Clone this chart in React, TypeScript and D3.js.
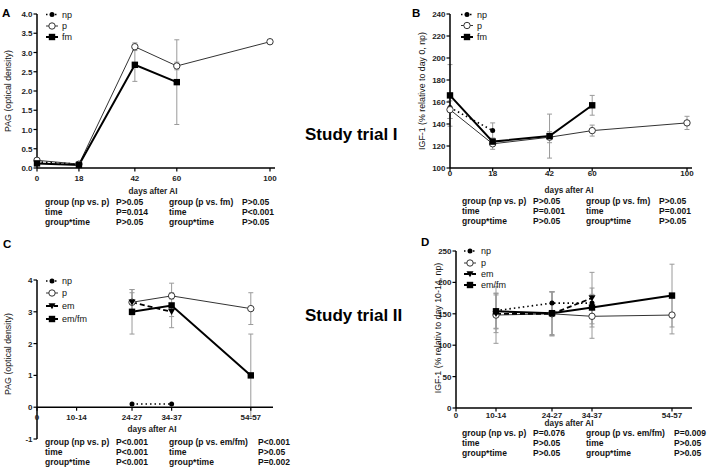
import React from "react";
import * as d3 from "d3";

// ---------- Data ----------
// Study trial I (panels A, B)
const daysI = [0, 18, 42, 60, 100];
const pagA_np = [0.16, 0.1, null, null, null];
const pagA_np_err = [0.06, 0.03, null, null, null];
const pagA_p = [0.2, 0.1, 3.15, 2.65, 3.28];
const pagA_p_err = [0.05, 0.03, 0.1, 0.1, 0.03];
const pagA_fm = [0.12, 0.08, 2.68, 2.23, null];
const pagA_fm_err = [0.05, 0.03, 0.43, 1.1, null];

const igfB_np = [155, 134, null, null, null];
const igfB_np_err = [10, 7, null, null, null];
const igfB_p = [153, 122, 128, 134, 141];
const igfB_p_err = [8, 5, 5, 5, 6];
const igfB_fm = [166, 124, 129, 157, null];
const igfB_fm_err = [28, 3, 20, 9, null];

// Study trial II (panels C, D)
const periodLabels = ["10-14", "24-27", "34-37", "54-57"];
const periodStart = [10, 24, 34, 54];
const pagC_np = [null, 0.1, 0.1, null];
const pagC_np_err = [null, 0, 0, null];
const pagC_p = [null, 3.3, 3.5, 3.1];
const pagC_p_err = [null, 0.4, 0.1, 0.5];
const pagC_em = [null, 3.3, 3.0, null];
const pagC_em_err = [null, 0.3, 0.15, null];
const pagC_emfm = [null, 3.0, 3.2, 1.0];
const pagC_emfm_err = [null, 0.7, 0.7, 1.3];

const igfD_np = [155, 167, 167, null];
const igfD_np_err = [28, 18, 10, null];
const igfD_p = [148, 150, 146, 148];
const igfD_p_err = [45, 35, 35, 30];
const igfD_em = [150, 150, 175, null];
const igfD_em_err = [30, 35, 41, null];
const igfD_emfm = [154, 151, 160, 179];
const igfD_emfm_err = [28, 34, 31, 50];

const statsA = [
  ["group (np vs. p)", "P>0.05", "group (p vs. fm)", "P>0.05"],
  ["time", "P=0.014", "time", "P<0.001"],
  ["group*time", "P>0.05", "group*time", "P>0.05"],
];
const statsB = [
  ["group (np vs. p)", "P>0.05", "group (p vs. fm)", "P>0.05"],
  ["time", "P=0.001", "time", "P=0.001"],
  ["group*time", "P>0.05", "group*time", "P>0.05"],
];
const statsC = [
  ["group (np vs. p)", "P<0.001", "group (p vs. em/fm)", "P<0.001"],
  ["time", "P<0.001", "time", "P>0.05"],
  ["group*time", "P<0.001", "group*time", "P=0.002"],
];
const statsD = [
  ["group (np vs. p)", "P=0.076", "group (p vs. em/fm)", "P=0.009"],
  ["time", "P>0.05", "time", "P>0.05"],
  ["group*time", "P>0.05", "group*time", "P>0.05"],
];

// ---------- Styles ----------
const FONT = "'Liberation Sans', Arial, sans-serif";
type Kind = "np" | "p" | "fm" | "em";
const lineStyle: Record<Kind, any> = {
  np: { stroke: "#000", strokeWidth: 1.6, strokeDasharray: "1.5,3" },
  p: { stroke: "#333", strokeWidth: 1 },
  fm: { stroke: "#000", strokeWidth: 2 },
  em: { stroke: "#000", strokeWidth: 1.8, strokeDasharray: "5,3" },
};

function Marker({ kind, x, y }: { kind: Kind; x: number; y: number }) {
  if (kind === "np") return <circle cx={x} cy={y} r={2.5} fill="#000" />;
  if (kind === "p")
    return <circle cx={x} cy={y} r={3.2} fill="#fff" stroke="#333" strokeWidth={1} />;
  if (kind === "fm") return <rect x={x - 3.2} y={y - 3.2} width={6.4} height={6.4} fill="#000" />;
  const s = 3.5;
  return <path d={`M${x - s},${y - s * 0.8}L${x + s},${y - s * 0.8}L${x},${y + s * 0.9}Z`} fill="#000" />;
}

type Series = { name: string; kind: Kind; values: (number | null)[]; errors: (number | null)[] };

type PanelProps = {
  letter: string;
  letterPos: [number, number];
  xs: number[];
  x: d3.ScaleLinear<number, number>;
  y: d3.ScaleLinear<number, number>;
  xAxisAt: number;
  xAxisEnd: number;
  xTicks: { v: number; label: string }[];
  xTickBaseline: number;
  yTicks: number[];
  yFormat: (v: number) => string;
  series: Series[];
  legend: { cx: number; tx: number; ys: number[] };
  yLabel: string;
  yLabelPos: [number, number];
  xLabelPos: [number, number];
  stats: string[][];
  statsX: number[];
  statsY: number[];
};

function Panel(p: PanelProps) {
  const [yMin, yMax] = p.y.domain();
  const axisY = p.y(p.xAxisAt);
  const x0 = p.x(0);
  return (
    <g fontFamily={FONT}>
      <text x={p.letterPos[0]} y={p.letterPos[1]} fontSize={11.5} fontWeight="bold">
        {p.letter}
      </text>
      {/* error bars */}
      {p.series.map((s) =>
        s.values.map((v, i) => {
          const e = s.errors[i];
          if (v == null || e == null || e === 0) return null;
          const cx = p.x(p.xs[i]);
          const y1 = p.y(v - e);
          const y2 = p.y(v + e);
          return (
            <g key={s.name + i} stroke="#9a9a9a" strokeWidth={1}>
              <line x1={cx} x2={cx} y1={y1} y2={y2} />
              <line x1={cx - 2.5} x2={cx + 2.5} y1={y1} y2={y1} />
              <line x1={cx - 2.5} x2={cx + 2.5} y1={y2} y2={y2} />
            </g>
          );
        })
      )}
      {/* axes */}
      <line x1={x0} x2={x0} y1={p.y(yMax)} y2={p.y(yMin)} stroke="#000" strokeWidth={1.5} />
      <line x1={x0} x2={p.xAxisEnd} y1={axisY} y2={axisY} stroke="#000" strokeWidth={1.5} />
      {p.yTicks.map((t) => (
        <g key={"yt" + t}>
          <line x1={x0 - 3.5} x2={x0} y1={p.y(t)} y2={p.y(t)} stroke="#000" strokeWidth={1.2} />
          <text x={x0 - 4.5} y={p.y(t) + 3} fontSize={8} fontWeight="bold" textAnchor="end" fill="#222">
            {p.yFormat(t)}
          </text>
        </g>
      ))}
      {p.xTicks.map((t) => (
        <g key={"xt" + t.label}>
          <line x1={p.x(t.v)} x2={p.x(t.v)} y1={axisY} y2={axisY + 3.5} stroke="#000" strokeWidth={1.2} />
          <text x={p.x(t.v)} y={p.xTickBaseline} fontSize={8} fontWeight="bold" textAnchor="middle" fill="#222">
            {t.label}
          </text>
        </g>
      ))}
      {/* lines */}
      {p.series.map((s) => {
        const pts = s.values.map((v, i) => ({ xv: p.xs[i], v }));
        const gen = d3
          .line<{ xv: number; v: number | null }>()
          .defined((d) => d.v != null)
          .x((d) => p.x(d.xv))
          .y((d) => p.y(d.v as number));
        return <path key={"l" + s.name} d={gen(pts) || ""} fill="none" {...lineStyle[s.kind]} />;
      })}
      {/* markers */}
      {p.series.map((s) =>
        s.values.map((v, i) =>
          v == null ? null : <Marker key={"m" + s.name + i} kind={s.kind} x={p.x(p.xs[i])} y={p.y(v)} />
        )
      )}
      {/* legend */}
      {p.series.map((s, i) => (
        <g key={"lg" + s.name}>
          <line
            x1={p.legend.cx - 6}
            x2={p.legend.cx + 6}
            y1={p.legend.ys[i]}
            y2={p.legend.ys[i]}
            {...lineStyle[s.kind]}
          />
          <Marker kind={s.kind} x={p.legend.cx} y={p.legend.ys[i]} />
          <text x={p.legend.tx} y={p.legend.ys[i] + 3.2} fontSize={9} fill="#111">
            {s.name}
          </text>
        </g>
      ))}
      {/* labels */}
      <text
        transform={`translate(${p.yLabelPos[0]},${p.yLabelPos[1]}) rotate(-90)`}
        fontSize={8.8}
        textAnchor="middle"
        dy="0.35em"
        fill="#111"
      >
        {p.yLabel}
      </text>
      <text x={p.xLabelPos[0]} y={p.xLabelPos[1]} fontSize={8.2} fontWeight="bold" textAnchor="middle" fill="#222">
        days after AI
      </text>
      {p.stats.map((row, r) =>
        row.map((cell, c) => (
          <text
            key={"s" + r + c}
            x={p.statsX[c]}
            y={p.statsY[r]}
            fontSize={8.5}
            fontWeight="bold"
            fill="#111"
          >
            {cell}
          </text>
        ))
      )}
    </g>
  );
}

export default function App() {
  const xA = d3.scaleLinear().domain([0, 100]).range([37, 270]);
  const yA = d3.scaleLinear().domain([0, 4]).range([168, 14]);
  const xB = d3.scaleLinear().domain([0, 100]).range([450, 687]);
  const yB = d3.scaleLinear().domain([100, 240]).range([168, 14]);
  const xC = d3.scaleLinear().domain([0, 59]).range([37, 270.6]);
  const yC = d3.scaleLinear().domain([-1, 4]).range([439, 280]);
  const xD = d3.scaleLinear().domain([0, 59]).range([456, 692]);
  const yD = d3.scaleLinear().domain([0, 250]).range([408, 251]);

  const ticksI = daysI.map((d) => ({ v: d, label: String(d) }));
  const ticksII = [{ v: 0, label: "0" }].concat(periodStart.map((d, i) => ({ v: d, label: periodLabels[i] })));

  const seriesA: Series[] = [
    { name: "np", kind: "np", values: pagA_np, errors: pagA_np_err },
    { name: "p", kind: "p", values: pagA_p, errors: pagA_p_err },
    { name: "fm", kind: "fm", values: pagA_fm, errors: pagA_fm_err },
  ];
  const seriesB: Series[] = [
    { name: "np", kind: "np", values: igfB_np, errors: igfB_np_err },
    { name: "p", kind: "p", values: igfB_p, errors: igfB_p_err },
    { name: "fm", kind: "fm", values: igfB_fm, errors: igfB_fm_err },
  ];
  const seriesC: Series[] = [
    { name: "np", kind: "np", values: pagC_np, errors: pagC_np_err },
    { name: "p", kind: "p", values: pagC_p, errors: pagC_p_err },
    { name: "em", kind: "em", values: pagC_em, errors: pagC_em_err },
    { name: "em/fm", kind: "fm", values: pagC_emfm, errors: pagC_emfm_err },
  ];
  const seriesD: Series[] = [
    { name: "np", kind: "np", values: igfD_np, errors: igfD_np_err },
    { name: "p", kind: "p", values: igfD_p, errors: igfD_p_err },
    { name: "em", kind: "em", values: igfD_em, errors: igfD_em_err },
    { name: "em/fm", kind: "fm", values: igfD_emfm, errors: igfD_emfm_err },
  ];

  return (
    <svg
      width={708}
      height={469}
      style={{ position: "absolute", left: 0, top: 0, background: "#fff" }}
    >
      <rect width={708} height={469} fill="#fff" />
      <Panel
        letter="A"
        letterPos={[2, 17]}
        xs={daysI}
        x={xA}
        y={yA}
        xAxisAt={0}
        xAxisEnd={275}
        xTicks={ticksI}
        xTickBaseline={181}
        yTicks={d3.range(0, 4.01, 0.5)}
        yFormat={(v) => v.toFixed(1)}
        series={seriesA}
        legend={{ cx: 52, tx: 62, ys: [14.5, 26, 37] }}
        yLabel="PAG (optical density)"
        yLabelPos={[8, 91]}
        xLabelPos={[153, 194]}
        stats={statsA}
        statsX={[45, 116, 169, 242]}
        statsY={[205, 215, 225]}
      />
      <Panel
        letter="B"
        letterPos={[412, 17]}
        xs={daysI}
        x={xB}
        y={yB}
        xAxisAt={100}
        xAxisEnd={692}
        xTicks={ticksI}
        xTickBaseline={176}
        yTicks={d3.range(100, 241, 20)}
        yFormat={(v) => String(v)}
        series={seriesB}
        legend={{ cx: 467, tx: 477, ys: [14.5, 25.5, 37] }}
        yLabel="IGF-1 (% relative to day 0, np)"
        yLabelPos={[422, 91]}
        xLabelPos={[569, 193]}
        stats={statsB}
        statsX={[462, 533, 586, 659]}
        statsY={[204, 214, 224]}
      />
      <Panel
        letter="C"
        letterPos={[3, 248]}
        xs={periodStart}
        x={xC}
        y={yC}
        xAxisAt={0}
        xAxisEnd={273}
        xTicks={ticksII}
        xTickBaseline={420}
        yTicks={d3.range(-1, 4.01, 1)}
        yFormat={(v) => String(v)}
        series={seriesC}
        legend={{ cx: 52, tx: 62, ys: [281, 293, 306, 319] }}
        yLabel="PAG (optical density)"
        yLabelPos={[8, 354]}
        xLabelPos={[152, 432]}
        stats={statsC}
        statsX={[45, 116, 169, 258]}
        statsY={[445, 455, 465]}
      />
      <Panel
        letter="D"
        letterPos={[421, 246]}
        xs={periodStart}
        x={xD}
        y={yD}
        xAxisAt={0}
        xAxisEnd={692}
        xTicks={ticksII}
        xTickBaseline={418}
        yTicks={d3.range(0, 251, 50)}
        yFormat={(v) => String(v)}
        series={seriesD}
        legend={{ cx: 470, tx: 481, ys: [251, 263, 274, 285] }}
        yLabel="IGF-1 (% relativ to day 10-14, np)"
        yLabelPos={[438, 328]}
        xLabelPos={[569, 426]}
        stats={statsD}
        statsX={[462, 533, 586, 674]}
        statsY={[436, 446, 456]}
      />
      <text x={305} y={140} fontFamily={FONT} fontSize={17} fontWeight="bold">
        Study trial I
      </text>
      <text x={305} y={321} fontFamily={FONT} fontSize={17} fontWeight="bold">
        Study trial II
      </text>
    </svg>
  );
}
